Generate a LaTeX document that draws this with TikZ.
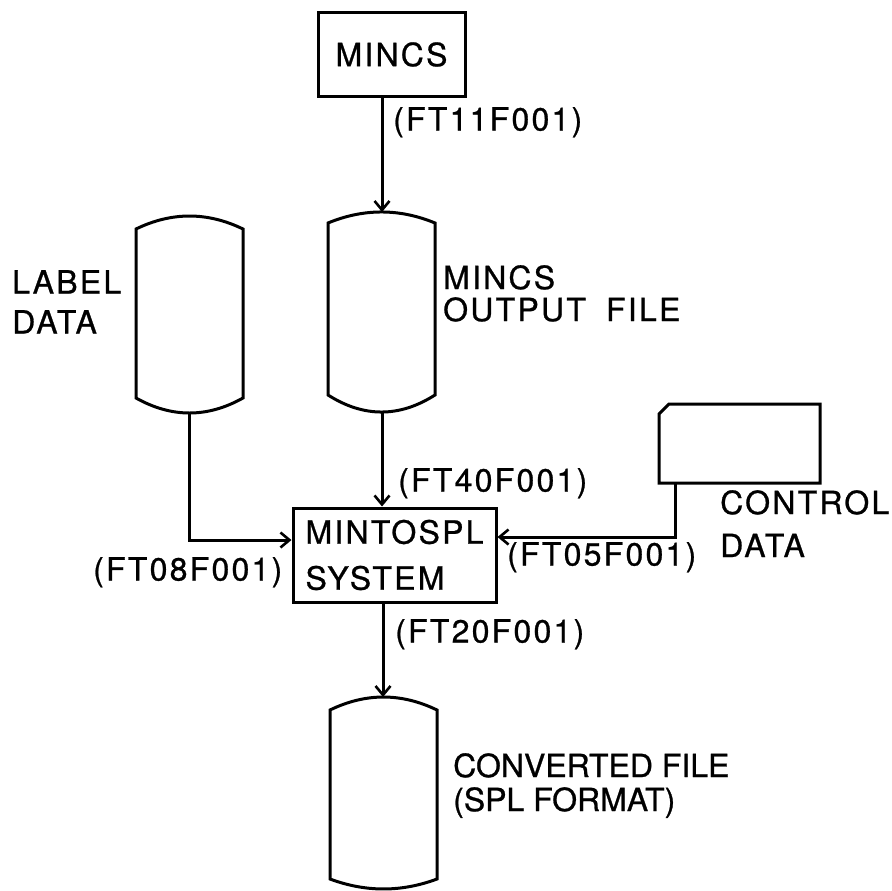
\documentclass[tikz,border=0pt]{standalone}
\usepackage{fontspec}
\setmainfont{TeX Gyre Heros}[LetterSpace=7,FakeBold=0.8]
\usetikzlibrary{arrows.meta}
\begin{document}
\begin{tikzpicture}[x=1pt,y=-1pt,
  ln/.style={line width=3pt},
  arr/.style={ln,-{Straight Barb[length=9pt,width=15pt,line width=2.6pt]}},
  boxst/.style={draw,ln,inner sep=0pt,align=left},
  lbl/.style={anchor=north west,inner sep=0pt,align=left,font=\fontsize{32}{36}\selectfont},
]
\useasboundingbox[fill=white] (0,0) rectangle (891,891);

% process boxes
\node[boxst,minimum width=147pt,minimum height=83pt,font=\fontsize{32}{36}\selectfont] (mincs) at (391.5,54.5) {MINCS};
\node[boxst,minimum width=203pt,minimum height=94pt,font=\fontsize{32}{46}\selectfont] (sys) at (394.5,555) {MINTOSPL\\SYSTEM};

% tapes (label data, mincs output file, converted file)
\draw[ln] (136,229) .. controls (171.7,211.7) and (207.3,211.7) .. (243,229) -- (243,398)
  .. controls (207.3,418) and (171.7,418) .. (136,398) -- cycle;
\coordinate (labbot) at (189.5,413);
\draw[ln] (328,223) .. controls (363.7,208.3) and (399.3,208.3) .. (435,223) -- (435,395)
  .. controls (399.3,417.7) and (363.7,417.7) .. (328,395) -- cycle;
\coordinate (mouttop) at (382,212);
\coordinate (moutbot) at (382,412);
\draw[ln] (330,710) .. controls (365.7,692.7) and (401.3,692.7) .. (437,710) -- (437,879)
  .. controls (401.3,892.3) and (365.7,892.3) .. (330,879) -- cycle;
\coordinate (convtop) at (383,697);

% card
\draw[ln] (669,404) -- (820,404) -- (820,483) -- (659,483) -- (659,414) -- cycle;
\coordinate (cardbot) at (675,483);

% connectors
\draw[arr] (mouttop |- mincs.south) -- (mouttop);
\draw[arr] (moutbot) -- (moutbot |- sys.north);
\draw[arr] (labbot) |- ([yshift=15pt]sys.west);
\draw[arr] (cardbot) |- ([yshift=18pt]sys.east);
\draw[arr] (convtop |- sys.south) -- (convtop);

% labels
\node[lbl] (l11) at (393,107) {(FT11F001)};
\node[lbl] (l40) at (398,468) {(FT40F001)};
\node[lbl] (l05) at (507,542) {(FT05F001)};
\node[lbl] (l08) at (93,557) {(FT08F001)};
\node[lbl] (l20) at (395,619) {(FT20F001)};
\node[lbl,font=\fontsize{32}{40}\selectfont] (tlabel) at (12,270) {LABEL\\DATA};
\node[lbl,font=\fontsize{32}{32}\selectfont] (tmout) at (443,265) {MINCS\\OUTPUT\hspace{9pt} FILE};
\node[lbl,font=\fontsize{32}{43}\selectfont] (tctl) at (720,490) {CONTROL\\DATA};
\node[lbl,font=\fontsize{32}{34}\selectfont\addfontfeatures{LetterSpace=0}] (tconv) at (453,753) {CONVERTED FILE\\(SPL FORMAT)};
\end{tikzpicture}
\end{document}
